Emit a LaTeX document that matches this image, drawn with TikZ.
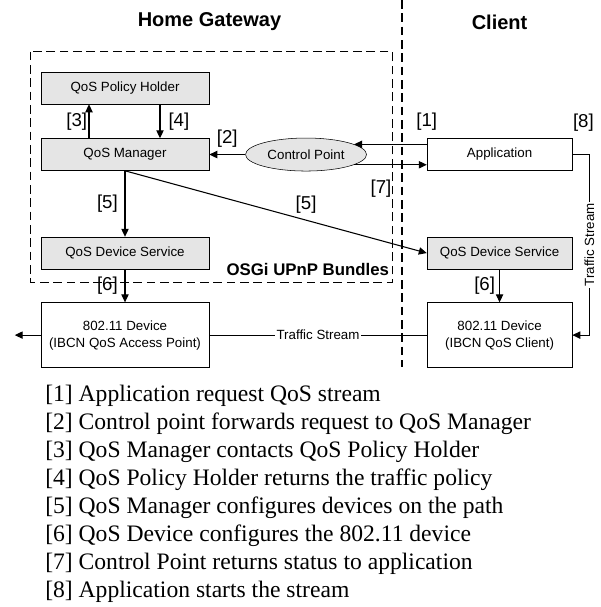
\documentclass[tikz,border=0pt]{standalone}
\usepackage{fontspec}
\setmainfont{Liberation Sans}
\newfontfamily\legendfont{Liberation Serif}
\usetikzlibrary{arrows.meta, positioning, shapes.geometric}

\begin{document}
\begin{tikzpicture}[
			every node/.style={font=\fontsize{10}{12.75}\selectfont},
			box/.style={draw, minimum width=126pt, minimum height=24pt,
				inner sep=0pt, fill=gray!20, align=center},
			clbox/.style={box, minimum width=108.75pt},
			devbox/.style={draw, fill=white, minimum height=48.75pt,
				inner sep=0pt, align=center},
			arr/.style={-{Triangle[length=6pt, width=5.5pt]}, line width=0.8pt},
			lbl/.style={font=\fontsize{14}{16}\selectfont, inner sep=1pt},
			stream/.style={fill=white, inner sep=1pt},
			sep/.style={dash pattern=on 6.5pt off 3.5pt, line width=1.1pt},
			title/.style={font=\fontsize{15}{18}\selectfont\bfseries},
			]
			\useasboundingbox (0,0) rectangle (450pt,-455.25pt);

			% =============================================================
			%  HOME GATEWAY (left column)
			% =============================================================
			\node[title] (home) at (157.1pt,-16.5pt) {Home Gateway};

			\node[box] (holder) at (93.75pt,-66pt) {QoS Policy Holder};
			\node[box, below=25.5pt of holder] (manager) {QoS Manager};
			\node[box, below=49.5pt of manager] (devsvcL) {QoS Device Service};
			\node[devbox, minimum width=126pt,
			below=24.75pt of devsvcL] (devL)
			{802.11 Device\\(IBCN QoS Access Point)};

			% --- OSGi bundle frame ---
			\coordinate (bndNW) at ([xshift=-7.5pt, yshift=15pt]holder.north west);
			\coordinate (bndSE) at ([xshift=137.25pt, yshift=-9.75pt]devsvcL.south east);
			\draw[sep] (bndNW) rectangle (bndSE);
			\node[anchor=east, inner sep=0pt,
			font=\fontsize{12.6}{15}\selectfont\bfseries] (osgi)
			at ([xshift=-2.25pt, yshift=9.75pt]bndSE) {OSGi UPnP Bundles};

			% --- gateway / client border ---
			\coordinate (septop) at (301.5pt,0pt);
			\coordinate (sepbot) at (301.5pt,-275.25pt);
			\draw[sep] (septop) -- (sepbot);

			% =============================================================
			%  CONTROL POINT + CLIENT (right column)
			% =============================================================
			\node[ellipse, draw, fill=gray!20, minimum width=90.75pt,
			minimum height=24.75pt, inner sep=0pt,
			right=27pt of manager] (ctrl) {Control Point};

			\node[clbox, fill=white, right=45pt of ctrl] (app) {Application};
			\node[clbox, below=49.5pt of app] (devsvcR) {QoS Device Service};
			\node[devbox, minimum width=108.75pt,
			below=24.75pt of devsvcR] (devR)
			{802.11 Device\\(IBCN QoS Client)};

			\node[title] (client) at (app |- home) {Client};

			% ---- ARROWS: message flow ----
			\draw[arr] (app.west |- ctrl.12) -- (ctrl.12)
			node[at start, above=9pt, lbl] {[1]};
			\draw[arr] (ctrl) -- (manager)
			node[midway, above=4pt, lbl] {[2]};
			\draw[arr] ([xshift=-27pt]manager.north) -- ([xshift=-27pt]holder.south)
			node[midway, left, lbl] {[3]};
			\draw[arr] ([xshift=26.25pt]holder.south) -- ([xshift=26.25pt]manager.north)
			node[midway, right=5pt, lbl] {[4]};
			\draw[arr] (manager.south) -- (devsvcL.north)
			node[midway, left=4pt, lbl] {[5]};
			\draw[arr] (manager.south) -- (devsvcR.west)
			node[pos=0.6, above=4pt, lbl] {[5]};
			\draw[arr] (devsvcL) -- (devL)
			node[midway, left=4pt, lbl] {[6]};
			\draw[arr] (devsvcR) -- (devR)
			node[midway, left=2pt, lbl] {[6]};
			\draw[arr] (ctrl.-12) -- (ctrl.-12 -| app.west)
			node[pos=0.37, below=10pt, lbl] {[7]};

			% ---- traffic stream ----
			\coordinate (turn) at ([xshift=12.75pt]app.east);
			\coordinate (turn2) at (turn |- devR.east);
			\draw[arr] (app.east) -- (turn)
			node[pos=0.65, above=16pt, lbl] {[8]}
			-- (turn2) node[midway, stream, rotate=90] {Traffic Stream}
			-- (devR.east);

			\coordinate[left=19.5pt of devL.west] (air);
			\draw (devL) -- (devR) node[midway, stream] {Traffic Stream};
			\draw[arr] (devL) -- (air);

			% =============================================================
			%  LEGEND
			% =============================================================
			\node[anchor=north west, inner sep=0pt, align=left,
			font=\legendfont\fontsize{17.7}{21}\selectfont] (legend)
			at (33.75pt,-288.75pt)
			{{[1]} Application request QoS stream\\
				{[2]} Control point forwards request to QoS Manager\\
				{[3]} QoS Manager contacts QoS Policy Holder\\
				{[4]} QoS Policy Holder returns the traffic policy\\
				{[5]} QoS Manager configures devices on the path\\
				{[6]} QoS Device configures the 802.11 device\\
				{[7]} Control Point returns status to application\\
				{[8]} Application starts the stream};
		\end{tikzpicture}
\end{document}
